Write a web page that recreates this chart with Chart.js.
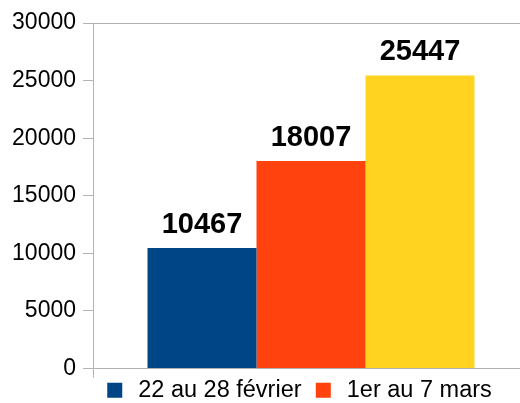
<!DOCTYPE html>
<html>
<head>
<meta charset="utf-8">
<script src="https://cdn.jsdelivr.net/npm/chart.js@4"></script>
<style>
  html, body { margin: 0; padding: 0; background: #fff; overflow: hidden; }
  #wrap { width: 529px; height: 412px; }
</style>
</head>
<body>
<div id="wrap"><canvas id="chart"></canvas></div>
<script>
// Values
const categories = [''];
const seriesLabels = ['22 au 28 février', '1er au 7 mars', '8 au 14 mars'];
const seriesValues = [10467, 18007, 25447];
const seriesColors = ['#004586', '#ff420e', '#ffd320'];
const yTicks = [0, 5000, 10000, 15000, 20000, 25000, 30000];

const fontFamily = '"Liberation Sans", Arial, sans-serif';
const axisGrey = '#b3b3b3';

// ---- value labels above each bar ----
const valueLabels = {
  id: 'valueLabels',
  afterDatasetsDraw(chart) {
    const ctx = chart.ctx;
    ctx.save();
    ctx.font = 'bold 29px ' + fontFamily;
    ctx.fillStyle = '#000';
    ctx.textAlign = 'center';
    ctx.textBaseline = 'alphabetic';
    chart.data.datasets.forEach((ds, i) => {
      chart.getDatasetMeta(i).data.forEach((bar, j) => {
        ctx.fillText(ds.data[j], bar.x, bar.y - 15);
      });
    });
    ctx.restore();
  }
};

const datasets = seriesLabels.map((label, i) => ({
  label: label,
  data: [seriesValues[i]],
  backgroundColor: seriesColors[i],
  borderWidth: 0,
  categoryPercentage: 0.75,
  barPercentage: 1
}));

new Chart(document.getElementById('chart'), {
  type: 'bar',
  data: { labels: categories, datasets: datasets },
  options: {
    responsive: true,
    maintainAspectRatio: false,
    animation: false,
    layout: { padding: { left: 8, top: 23, right: 0, bottom: 0 } },
    plugins: {
      tooltip: { enabled: false },
      legend: {
        position: 'bottom',
        align: 'start',
        fullSize: false,
        labels: {
          // third entry is cut off in the original
          filter: item => item.datasetIndex < 2,
          usePointStyle: true,
          pointStyle: 'rect',
          boxWidth: 24,
          boxHeight: 15,
          padding: 10,
          color: '#000',
          font: { family: fontFamily, size: 23.5 }
        }
      }
    },
    scales: {
      x: {
        ticks: { display: false },
        grid: {
          display: true,
          offset: true,
          drawOnChartArea: false,
          tickLength: 9,
          color: axisGrey
        },
        border: { color: axisGrey },
        afterFit(scale) { scale.height = 0; }
      },
      y: {
        min: yTicks[0],
        max: yTicks[yTicks.length - 1],
        ticks: {
          stepSize: yTicks[1] - yTicks[0],
          padding: 7,
          color: '#000',
          font: { family: fontFamily, size: 23 },
          callback: v => String(v)
        },
        grid: {
          tickLength: 10,
          tickColor: axisGrey,
          color: c => (c.tick && c.tick.value === yTicks[yTicks.length - 1]) ? axisGrey : 'rgba(0,0,0,0)'
        },
        border: { color: axisGrey },
        afterFit(scale) { scale.width = 85; }
      }
    }
  },
  plugins: [valueLabels]
});
</script>
</body>
</html>
